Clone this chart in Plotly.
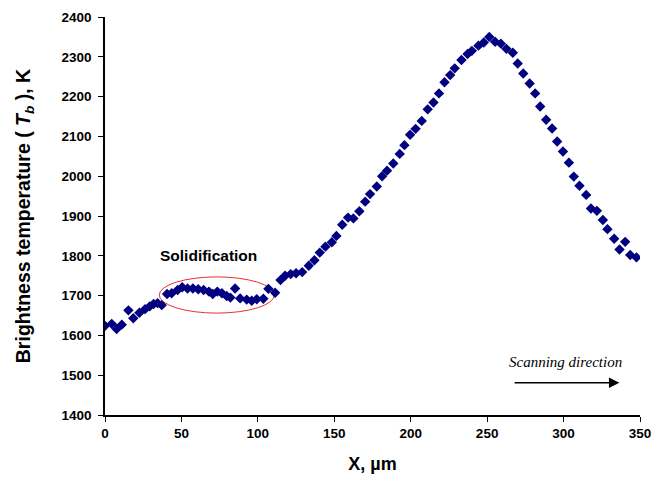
import plotly.graph_objects as go

x_um = [0, 4.4, 7.6, 11, 15.3, 18.5, 22.5, 26.2, 29.3, 31.8, 34.4, 37.1, 40.6, 43.6,
        47.5, 50.5, 54, 57.5, 61, 64.5, 68, 70.5, 73.5, 76.5, 79.6, 82, 85.1, 88.4,
        92.7, 96, 99.3, 103.6, 106.9, 111.3, 114.8, 117.8, 121.5, 125, 129, 133.3,
        137, 140.5, 144.2, 148.4, 151.4, 155.2, 159, 162.5, 166.4, 170.2, 173.4,
        177.8, 181.3, 184.5, 188.6, 192.8, 195.9, 199.6, 203.2, 207.2, 211.1, 214.9,
        218.5, 222.1, 225.8, 228.8, 233.2, 237.2, 240, 244.3, 247.8, 251.4, 255.2,
        259, 262.6, 266.8, 270, 273.6, 277.8, 281.4, 284.7, 288.6, 292.5, 295.8,
        299.6, 303.5, 306.7, 310.4, 314.8, 317.9, 321.8, 325.7, 328.7, 333.1, 336.6,
        340.3, 343.6, 347.7]
tb_k = [1624, 1629, 1616, 1627, 1663, 1643, 1657, 1666, 1673, 1679, 1681, 1676, 1704, 1706,
        1714, 1721, 1718, 1718, 1716, 1714, 1710, 1704, 1710, 1706, 1699, 1695, 1718, 1693,
        1690, 1687, 1691, 1692, 1717, 1707, 1739, 1750, 1754, 1756, 1759, 1775,
        1789, 1808, 1823, 1834, 1850, 1878, 1896, 1894, 1912, 1936, 1955,
        1974, 2000, 2014, 2032, 2056, 2078, 2104, 2119, 2139, 2168, 2185,
        2208, 2236, 2254, 2271, 2292, 2307, 2315, 2328, 2336, 2350, 2338,
        2333, 2320, 2310, 2283, 2258, 2233, 2208, 2175, 2142, 2120, 2087,
        2062, 2034, 1999, 1976, 1953, 1919, 1913, 1890, 1867, 1843, 1816,
        1835, 1802, 1796]

x_ticks = [0, 50, 100, 150, 200, 250, 300, 350]
y_ticks = [1400, 1500, 1600, 1700, 1800, 1900, 2000, 2100, 2200, 2300, 2400]

FONT = "Arial, 'Liberation Sans', sans-serif"

fig = go.Figure()
fig.add_trace(go.Scatter(
    x=x_um, y=tb_k, mode="markers",
    marker=dict(symbol="diamond", size=8, color="#000080", line=dict(width=0)),
    showlegend=False,
))

# ellipse around solidification region
fig.add_shape(type="circle", xref="x", yref="y", x0=35.5, x1=110.8, y0=1656, y1=1747,
              line=dict(color="#e83030", width=1), fillcolor="rgba(0,0,0,0)", layer="below")

fig.add_annotation(x=67.5, y=1800, xref="x", yref="y", text="<b>Solidification</b>",
                   showarrow=False, font=dict(family=FONT, size=15.5, color="black"))

fig.add_annotation(x=301.5, y=1533, xref="x", yref="y", text="<i>Scanning direction</i>",
                   showarrow=False,
                   font=dict(family="'Times New Roman', 'Liberation Serif', serif", size=15, color="black"))

fig.add_annotation(x=336.5, y=1481, ax=267, ay=1481, xref="x", yref="y", axref="x", ayref="y",
                   text="", showarrow=True, arrowhead=2, arrowsize=1.3, arrowwidth=1.6,
                   arrowcolor="black")

fig.update_layout(
    width=653, height=479,
    margin=dict(l=105, r=13, t=17, b=64),
    paper_bgcolor="white", plot_bgcolor="white",
    font=dict(family=FONT, color="black"),
    xaxis=dict(
        range=[0, 350], tickvals=x_ticks, ticktext=[f"<b>{v}</b>" for v in x_ticks],
        showline=True, linecolor="black", linewidth=1.5, mirror=False, automargin=False,
        ticks="outside", ticklen=5, tickcolor="black", tickwidth=1,
        showgrid=False, zeroline=False, tickfont=dict(size=13.5, family=FONT),
        title=dict(text="<b>X, µm</b>", font=dict(size=18, family=FONT), standoff=17),
    ),
    yaxis=dict(
        range=[1400, 2400], tickvals=y_ticks, ticktext=[f"<b>{v}</b>" for v in y_ticks],
        showline=True, linecolor="black", linewidth=1.5, mirror=False, automargin=False,
        ticks="outside", ticklen=5, tickcolor="black", tickwidth=1, ticklabelstandoff=4,
        showgrid=False, zeroline=False, tickfont=dict(size=13.5, family=FONT),
        title=dict(text="<b>Brightness temperature ( <i>T<sub>b</sub></i> ), K</b>",
                   font=dict(size=19.5, family=FONT), standoff=26),
    ),
)

fig.write_html("out.html", config={"displayModeBar": False},
               post_script="document.body.style.margin='0';")
